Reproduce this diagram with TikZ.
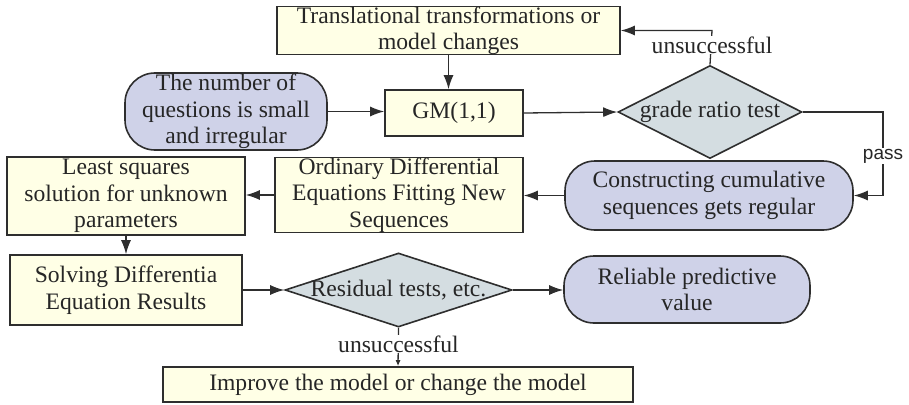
\documentclass[tikz,border=0pt]{standalone}
\usepackage{fontspec}
\setmainfont{Liberation Serif}
\newfontfamily\passfont{Liberation Sans}
\usetikzlibrary{shapes.geometric,arrows.meta}
\definecolor{cream}{HTML}{FFFFE6}
\definecolor{lav}{HTML}{CFD2E8}
\definecolor{dgray}{HTML}{D4DDE1}
\definecolor{edgec}{HTML}{2E2E2E}
\begin{document}
\begin{tikzpicture}[x=1pt,y=-1pt,
  txt/.style={font=\fontsize{23.6}{26.5}\selectfont, text=black!85, align=center},
  ybox/.style={txt, draw=edgec, line width=1.6pt, fill=cream, inner sep=0pt, rectangle},
  rbox/.style={txt, draw=edgec, line width=1.6pt, fill=lav, inner sep=0pt, rectangle, rounded corners=30pt},
  dbox/.style={txt, draw=edgec, line width=1.6pt, fill=dgray, inner sep=0pt, diamond},
  conn/.style={draw=edgec, line width=1.3pt},
  arr/.style={conn, -{Latex[length=14pt,width=10pt]}},
  sarr/.style={conn, -{Latex[length=6pt,width=5pt]}},
  lbl/.style={txt, fill=white, inner sep=1pt}
]
\useasboundingbox (0,0) rectangle (909,404);
% nodes
\node[ybox, minimum width=343pt, minimum height=46pt] (top) at (448.5,30.5) {Translational transformations or\\model changes};
\node[ybox, minimum width=138pt, minimum height=46pt] (gm) at (454,113) {GM(1,1)};
\node[rbox, minimum width=202pt, minimum height=77pt] (num) at (226,111.5) {The number of\\questions is small\\and irregular};
\node[dbox, minimum width=184pt, minimum height=93pt] (grt) at (710,112) {\makebox[0pt]{grade ratio test}};
\node[rbox, minimum width=288pt, minimum height=69pt] (cum) at (709,195.5) {Constructing cumulative\\sequences gets regular};
\node[ybox, minimum width=248pt, minimum height=74pt] (ode) at (399,195) {Ordinary Differential\\Equations Fitting New\\Sequences};
\node[ybox, minimum width=238pt, minimum height=78pt] (lsq) at (126,196) {Least squares\\solution for unknown\\parameters};
\node[ybox, minimum width=232pt, minimum height=70pt] (sol) at (126,290) {Solving Differentia\\Equation Results};
\node[dbox, minimum width=227pt, minimum height=74pt] (res) at (398.5,290) {\makebox[0pt]{Residual tests, etc.}};
\node[rbox, minimum width=246pt, minimum height=67pt] (rel) at (687,289.5) {Reliable predictive\\value};
\node[ybox, minimum width=470pt, minimum height=35pt] (imp) at (398,384.5) {Improve the model or change the model};
\coordinate (c1) at (712,30.5);
\coordinate (c2) at (883,112);
\coordinate (c3) at (883,195.5);
% connectors
\draw[arr] (top.south) -- (top.south |- gm.north);
\draw[arr] (num.east) -- (gm.west |- num.east);
\draw[arr] (gm.east) -- (grt.west);
\draw[arr] (grt.north) -- (c1) -- (top.east);
\node[lbl] (uns1) at (712,45) {unsuccessful};
\draw[arr] (grt.east) -- (c2) -- (c3) -- (cum.east);
\node[fill=white, inner sep=1pt, font=\passfont\fontsize{19}{20}\selectfont, text=black!85] (pass) at (883,156) {pass};
\draw[arr] (cum.west) -- (ode.east |- cum.west);
\draw[arr] (ode.west) -- (lsq.east |- ode.west);
\draw[arr] (lsq.south) -- (sol.north);
\draw[arr] (sol.east) -- (res.west);
\draw[arr] (res.east) -- (rel.west |- res.east);
\draw[sarr] (res.south) -- (imp.north);
\node[lbl] (uns2) at (398.5,344) {unsuccessful};
\end{tikzpicture}
\end{document}
